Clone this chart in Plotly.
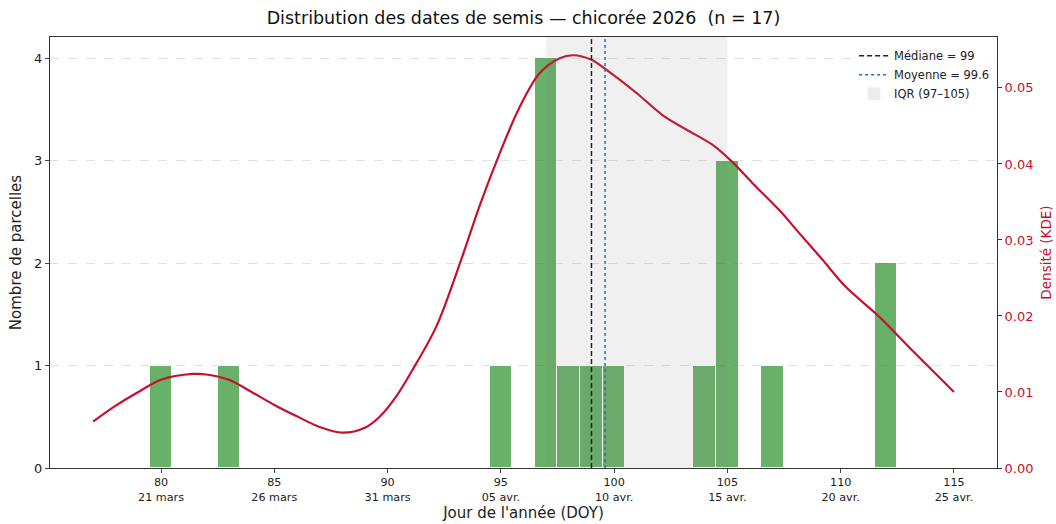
import plotly.graph_objects as go

# Sowing dates (day of year) and number of plots per date
doy = [80, 83, 95, 97, 98, 99, 100, 104, 105, 107, 112]
counts = [1, 1, 1, 4, 1, 1, 1, 1, 3, 1, 2]

# Kernel density estimate of the sowing dates
kde_doy = [77, 78, 79, 80, 81.4, 82, 83, 84, 85, 86, 87, 88, 89, 89.65, 90.4, 91.1, 92.15,
           93.25, 94.05, 94.95, 95.8, 96.7, 97.6, 98.2, 99, 99.65, 101, 102.15,
           103.2, 104.35, 105.2, 106.1, 107.3, 108.2, 109.2, 110.2, 111.7, 113.15, 115]
kde_density = [0.0061, 0.0082, 0.0100, 0.0116, 0.01237, 0.0123, 0.0116, 0.0100,
               0.0083, 0.0068, 0.0054, 0.00465, 0.0053, 0.00675, 0.0095, 0.0129, 0.0186,
               0.0274, 0.0344, 0.0414, 0.0473, 0.0519, 0.0539, 0.0543, 0.0537,
               0.0524, 0.0493, 0.0464, 0.0445, 0.0425, 0.0403, 0.0375, 0.0339,
               0.0308, 0.0274, 0.0239, 0.0199, 0.0155, 0.0100]

# Summary statistics
median = 99
mean = 99.6
q1, q3 = 97, 105

tick_doy = [80, 85, 90, 95, 100, 105, 110, 115]
tick_dates = ["21 mars", "26 mars", "31 mars", "05 avr.", "10 avr.", "15 avr.",
              "20 avr.", "25 avr."]

FONT = "DejaVu Sans"
RED = "#c8102e"
MEDIAN_DASH = "5px,3px"

fig = go.Figure()

fig.add_trace(go.Bar(
    x=doy, y=counts, width=1,
    marker=dict(color="rgba(34,139,34,0.68)", line=dict(color="white", width=1)),
    showlegend=False, yaxis="y",
))

fig.add_trace(go.Scatter(
    x=kde_doy, y=kde_density, mode="lines",
    line=dict(color=RED, width=2.2, shape="spline", smoothing=0.9),
    showlegend=False, yaxis="y2",
))

# Legend entries for the reference lines and the interquartile band
fig.add_trace(go.Scatter(x=[None], y=[None], mode="lines",
                         line=dict(color="#222222", dash=MEDIAN_DASH, width=1.5),
                         name=f"Médiane = {median}"))
fig.add_trace(go.Scatter(x=[None], y=[None], mode="lines",
                         line=dict(color="#1f77b4", dash="dot", width=1.5),
                         name=f"Moyenne = {mean}"))
fig.add_trace(go.Bar(x=[None], y=[None], marker=dict(color="rgba(128,128,128,0.15)"),
                     name=f"IQR ({q1}–{q3})"))

fig.add_shape(type="rect", xref="x", yref="paper", x0=q1, x1=q3, y0=0, y1=1,
              fillcolor="rgba(128,128,128,0.12)", line=dict(width=0), layer="above")
fig.add_shape(type="line", xref="x", yref="paper", x0=median, x1=median, y0=0, y1=1,
              line=dict(color="#222222", dash=MEDIAN_DASH, width=1.5), layer="above")
fig.add_shape(type="line", xref="x", yref="paper", x0=mean, x1=mean, y0=0, y1=1,
              line=dict(color="#1f77b4", dash="dot", width=1.5), layer="above")

fig.update_layout(
    width=1056, height=524,
    margin=dict(l=50, r=59, t=37, b=56),
    paper_bgcolor="white", plot_bgcolor="white",
    font=dict(family=FONT, size=12, color="#222222"),
    title=dict(text="Distribution des dates de semis — chicorée 2026  (n = 17)",
               x=0.4957, xanchor="center", y=1 - 18 / 524, yanchor="middle",
               yref="container", font=dict(size=17.5, color="#111111")),
    bargap=0,
    xaxis=dict(range=[75.1, 116.9], tickvals=tick_doy,
               ticktext=[f"{d}<br>{t}" for d, t in zip(tick_doy, tick_dates)],
               tickfont=dict(size=11.2), ticks="outside", ticklen=4,
               showline=True, linecolor="#333333", linewidth=1, mirror=True,
               showgrid=False, zeroline=False, automargin=False,
               title=dict(text="Jour de l'année (DOY)", font=dict(size=15), standoff=4)),
    yaxis=dict(range=[0, 4.205], tickvals=[0, 1, 2, 3, 4], tickfont=dict(size=13),
               ticks="outside", ticklen=4, showline=True, linecolor="#333333",
               linewidth=1, mirror=True, showgrid=True, gridcolor="#e0e0e0",
               griddash="dash", gridwidth=1, zeroline=False, automargin=False,
               title=dict(text="Nombre de parcelles", font=dict(size=15), standoff=8)),
    yaxis2=dict(range=[0, 0.0567], overlaying="y", side="right",
                tickvals=[0, 0.01, 0.02, 0.03, 0.04, 0.05], tickformat=".2f",
                tickfont=dict(size=13, color=RED), ticks="outside", ticklen=4,
                tickcolor="#333333", showgrid=False, zeroline=False, showline=False,
                automargin=False,
                title=dict(text="Densité (KDE)", font=dict(size=13.5, color=RED), standoff=8)),
    legend=dict(x=0.998, y=0.99, xanchor="right", yanchor="top",
                bgcolor="rgba(255,255,255,0.8)", borderwidth=0,
                font=dict(size=11.5), itemwidth=30, tracegroupgap=2),
)

fig.write_html("out.html")
